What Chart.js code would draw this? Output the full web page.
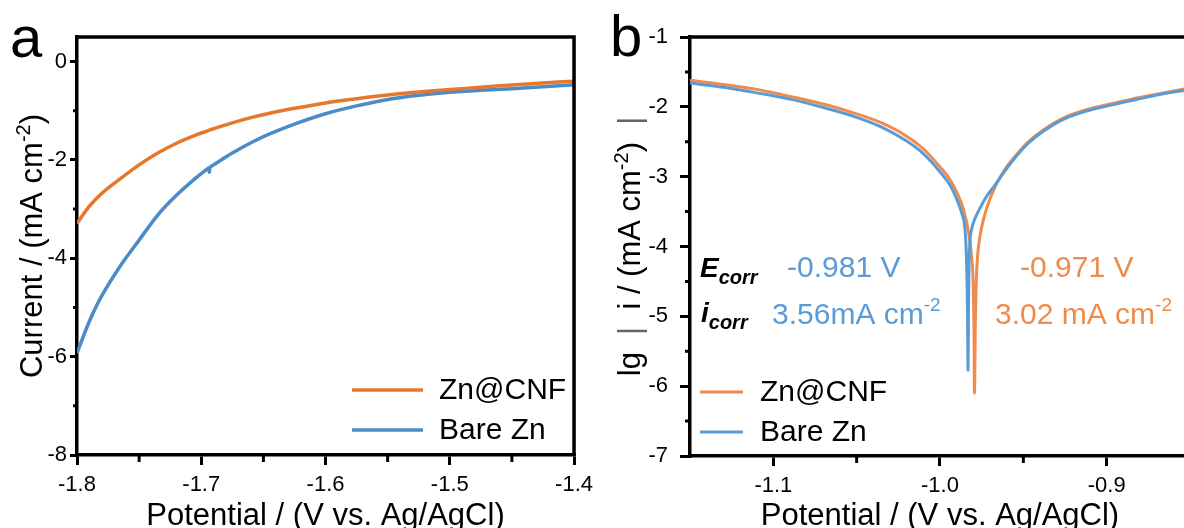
<!DOCTYPE html>
<html>
<head>
<meta charset="utf-8">
<script src="https://cdn.jsdelivr.net/npm/chart.js@4.4.0/dist/chart.umd.min.js"></script>
<style>
html, body { margin: 0; padding: 0; background: #fff; overflow: hidden; }
body { width: 1184px; height: 528px; position: relative; }
.panel { position: absolute; top: 0; width: 600px; height: 528px; }
#wrapA { left: 0; }
#wrapB { left: 600px; }
</style>
</head>
<body>
<div class="panel" id="wrapA"><canvas id="chartA" width="600" height="528"></canvas></div>
<div class="panel" id="wrapB"><canvas id="chartB" width="600" height="528"></canvas></div>
<script>
// ---------- panel a : LSV curves ----------
const potentialA = [-1.8, -1.79, -1.78, -1.765, -1.75, -1.735, -1.72, -1.705, -1.695, -1.694, -1.6935, -1.693,
    -1.69, -1.675, -1.66, -1.645, -1.625, -1.6, -1.575, -1.55, -1.525, -1.5, -1.475, -1.45, -1.425, -1.4];
const cnfCurrentA = [-3.29, -2.94, -2.68, -2.38, -2.10, -1.86, -1.66, -1.50, -1.41, -1.40, -1.395, -1.39,
    -1.365, -1.245, -1.14, -1.05, -0.95, -0.84, -0.755, -0.68, -0.62, -0.57, -0.52, -0.475, -0.435, -0.40];
const bareCurrentA = [-5.93, -5.28, -4.76, -4.15, -3.63, -3.12, -2.72, -2.38, -2.18, -2.165, -2.25, -2.155,
    -2.10, -1.86, -1.65, -1.47, -1.27, -1.06, -0.90, -0.77, -0.685, -0.625, -0.585, -0.55, -0.51, -0.47];
const xTicksA = [-1.8, -1.7, -1.6, -1.5, -1.4];
const xMinorA = [-1.75, -1.65, -1.55, -1.45];
const yTicksA = [-8, -6, -4, -2, 0];
const yMinorA = [-7, -5, -3, -1];

// ---------- panel b : Tafel curves ----------
const cnfPotentialB = [-1.15, -1.13, -1.11, -1.09, -1.07, -1.05, -1.035, -1.02, -1.01, -1.0, -0.994, -0.99,
    -0.986, -0.983, -0.981, -0.98, -0.9796, -0.9793, -0.9788, -0.9783, -0.9775, -0.976, -0.974, -0.971,
    -0.967, -0.962, -0.955, -0.947, -0.938, -0.926, -0.912, -0.9, -0.885, -0.87, -0.85];
const cnfLogB = [-1.62, -1.68, -1.75, -1.85, -1.96, -2.10, -2.23, -2.42, -2.60, -2.86, -3.04, -3.22,
    -3.46, -3.78, -4.15, -4.60, -5.20, -6.10, -5.10, -4.55, -4.15, -3.85, -3.62, -3.38,
    -3.15, -2.93, -2.71, -2.50, -2.33, -2.16, -2.04, -1.97, -1.89, -1.82, -1.73];
const barePotentialB = [-1.15, -1.13, -1.11, -1.09, -1.07, -1.05, -1.035, -1.02, -1.01, -1.0, -0.994, -0.99,
    -0.987, -0.985, -0.9842, -0.9837, -0.9834, -0.9832, -0.9829, -0.9826, -0.9821, -0.981, -0.979, -0.976,
    -0.972, -0.967, -0.962, -0.955, -0.947, -0.938, -0.926, -0.912, -0.9, -0.885, -0.87, -0.85];
const bareLogB = [-1.66, -1.72, -1.80, -1.89, -2.01, -2.15, -2.29, -2.49, -2.67, -2.93, -3.12, -3.32,
    -3.52, -3.75, -4.10, -4.60, -5.20, -5.77, -4.90, -4.30, -3.95, -3.75, -3.60, -3.45,
    -3.28, -3.12, -2.95, -2.73, -2.52, -2.35, -2.18, -2.06, -1.99, -1.91, -1.83, -1.75];
const xTicksB = [-1.1, -1.0, -0.9];
const xMinorB = [-1.05, -0.95, -0.85];
const yTicksB = [-7, -6, -5, -4, -3, -2, -1];
const yMinorB = [-6.5, -5.5, -4.5, -3.5, -2.5, -1.5];

const seriesNames = ['Zn@CNF', 'Bare Zn'];
const ecorrText = ['-0.981 V', '-0.971 V'];
const icorrText = ['3.56mA cm', '3.02 mA cm'];

const FONT = "'Liberation Sans', Arial, sans-serif";
const ORANGE_A = '#E8772E', BLUE_A = '#4A8BC8';
const ORANGE_B = '#EF8B4C', BLUE_B = '#5B9BD5';

function pairs(xs, ys) {
    return xs.map((x, i) => ({ x: x, y: ys[i] }));
}

// draw a run of text pieces (for superscripts / subscripts)
function richWidth(ctx, parts) {
    let w = 0;
    parts.forEach(p => { ctx.font = p.font; w += ctx.measureText(p.text).width; });
    return w;
}
function drawRich(ctx, parts, x, y) {
    let cx = x;
    parts.forEach(p => {
        ctx.font = p.font;
        ctx.fillStyle = p.color || '#000';
        ctx.fillText(p.text, cx, y + (p.dy || 0));
        cx += ctx.measureText(p.text).width;
    });
}

// frame, minor ticks, titles, legend and notes
const decorations = {
    id: 'decorations',
    afterDraw(chart, args, o) {
        const ctx = chart.ctx;
        const { left, right, top, bottom } = chart.chartArea;
        const xs = chart.scales.x, ys = chart.scales.y;
        ctx.save();
        ctx.strokeStyle = '#000';
        ctx.lineWidth = o.frame;
        ctx.beginPath();
        ctx.moveTo(left - o.frame / 2, top);
        ctx.lineTo(right, top);
        ctx.lineTo(right, bottom);
        ctx.stroke();

        ctx.lineWidth = 3;
        ctx.beginPath();
        o.minorX.forEach(v => {
            const px = xs.getPixelForValue(v);
            ctx.moveTo(px, bottom);
            ctx.lineTo(px, bottom + o.minorLenX);
        });
        o.minorY.forEach(v => {
            const py = ys.getPixelForValue(v);
            ctx.moveTo(left, py);
            ctx.lineTo(left - o.minorLenY, py);
        });
        ctx.stroke();

        ctx.textBaseline = 'alphabetic';
        // panel letter
        ctx.font = '58px ' + FONT;
        ctx.fillStyle = '#000';
        ctx.fillText(o.letter, o.letterX, o.letterY);

        // x title
        ctx.font = '31px ' + FONT;
        ctx.textAlign = 'center';
        ctx.fillText('Potential / (V vs. Ag/AgCl)', (left + right) / 2, o.xTitleY);
        ctx.textAlign = 'left';

        // y title (rotated)
        ctx.save();
        ctx.translate(o.yTitleX, (top + bottom) / 2);
        ctx.rotate(-Math.PI / 2);
        const w = richWidth(ctx, o.yTitle);
        drawRich(ctx, o.yTitle, -w / 2, 0);
        ctx.restore();

        // legend
        chart.data.datasets.forEach((ds, i) => {
            const ly = o.legendY[i];
            ctx.strokeStyle = ds.borderColor;
            ctx.lineWidth = ds.borderWidth;
            ctx.beginPath();
            ctx.moveTo(o.legendX, ly);
            ctx.lineTo(o.legendX + o.legendLen, ly);
            ctx.stroke();
            ctx.fillStyle = '#000';
            ctx.font = '30px ' + FONT;
            ctx.textBaseline = 'middle';
            ctx.fillText(ds.label, o.legendX + o.legendLen + o.legendGap, ly + 1);
            ctx.textBaseline = 'alphabetic';
        });

        (o.notes || []).forEach(n => drawRich(ctx, n.parts, n.x, n.y));
        ctx.restore();
    }
};

function axisCommon(ticksArr, fmt, tickLen, pad, size) {
    return {
        type: 'linear',
        afterBuildTicks: s => { s.ticks = ticksArr.map(v => ({ value: v })); },
        ticks: {
            callback: fmt,
            color: '#000',
            padding: pad,
            font: { family: FONT, size: size }
        },
        grid: { drawOnChartArea: false, drawTicks: true, tickLength: tickLen, color: '#000', lineWidth: 3 },
        border: { display: true, color: '#000', width: 3.5 }
    };
}

// ---------- chart a ----------
const xA = axisCommon(xTicksA, v => v.toFixed(1), 10, 7, 22);
xA.min = -1.8; xA.max = -1.4;
xA.afterFit = s => { s.height = 73; };
const yA = axisCommon(yTicksA, v => String(v), 7, 3, 22);
yA.min = -8; yA.max = 0.5;
yA.afterFit = s => { s.width = 77; };

new Chart(document.getElementById('chartA'), {
    type: 'line',
    data: {
        datasets: [
            { label: seriesNames[0], data: pairs(potentialA, cnfCurrentA), borderColor: ORANGE_A, borderWidth: 3.5, order: 0 },
            { label: seriesNames[1], data: pairs(potentialA, bareCurrentA), borderColor: BLUE_A, borderWidth: 3.5, order: 1 }
        ]
    },
    options: {
        responsive: false,
        animation: false,
        layout: { padding: { top: 37, right: 25, left: 0, bottom: 0 } },
        elements: { point: { radius: 0 }, line: { tension: 0.35, fill: false } },
        scales: { x: xA, y: yA },
        plugins: {
            legend: { display: false },
            tooltip: { enabled: false },
            decorations: {
                frame: 3.5, minorX: xMinorA, minorY: yMinorA, minorLenX: 7, minorLenY: 4,
                letter: 'a', letterX: 10, letterY: 57,
                xTitleY: 525, yTitleX: 42,
                yTitle: [
                    { text: 'Current / (mA cm', font: '31px ' + FONT },
                    { text: '-2', font: '20px ' + FONT, dy: -12 },
                    { text: ')', font: '31px ' + FONT }
                ],
                legendX: 352, legendLen: 71, legendGap: 16, legendY: [390, 430]
            }
        }
    },
    plugins: [decorations]
});

// ---------- chart b ----------
const xB = axisCommon(xTicksB, v => v.toFixed(1), 10, 7, 22);
xB.min = -1.15; xB.max = -0.85;
xB.afterFit = s => { s.height = 72; };
const yB = axisCommon(yTicksB, v => String(v), 10, 12, 22);
yB.min = -7; yB.max = -1;
yB.afterFit = s => { s.width = 90; };

const bold = 'italic bold 28px ' + FONT, sub = 'italic bold 20px ' + FONT;
const big = '30px ' + FONT, sup = '19px ' + FONT;
const titleFont = '31px ' + FONT;

new Chart(document.getElementById('chartB'), {
    type: 'line',
    data: {
        datasets: [
            { label: seriesNames[0], data: pairs(cnfPotentialB, cnfLogB), borderColor: ORANGE_B, borderWidth: 3, order: 1 },
            { label: seriesNames[1], data: pairs(barePotentialB, bareLogB), borderColor: BLUE_B, borderWidth: 3, order: 0 }
        ]
    },
    options: {
        responsive: false,
        animation: false,
        layout: { padding: { top: 37, right: 10, left: 0, bottom: 0 } },
        elements: { point: { radius: 0 }, line: { cubicInterpolationMode: 'monotone', fill: false } },
        scales: { x: xB, y: yB },
        plugins: {
            legend: { display: false },
            tooltip: { enabled: false },
            decorations: {
                frame: 3.5, minorX: xMinorB, minorY: yMinorB, minorLenX: 7, minorLenY: 5,
                letter: 'b', letterX: 10, letterY: 56,
                xTitleY: 525, yTitleX: 40,
                yTitle: [
                    { text: 'lg  ', font: titleFont },
                    { text: '|', font: titleFont, color: '#666' },
                    { text: '  i / (mA cm', font: titleFont },
                    { text: '-2', font: '20px ' + FONT, dy: -12 },
                    { text: ')  ', font: titleFont },
                    { text: '|', font: titleFont, color: '#666' }
                ],
                legendX: 100, legendLen: 43, legendGap: 17, legendY: [392, 432],
                notes: [
                    { x: 100, y: 277, parts: [{ text: 'E', font: bold }, { text: 'corr', font: sub, dy: 7 }] },
                    { x: 187, y: 277, parts: [{ text: ecorrText[0], font: big, color: BLUE_B }] },
                    { x: 420, y: 277, parts: [{ text: ecorrText[1], font: big, color: ORANGE_B }] },
                    { x: 101, y: 322, parts: [{ text: 'i', font: bold }, { text: 'corr', font: sub, dy: 7 }] },
                    { x: 172, y: 324, parts: [{ text: icorrText[0], font: big, color: BLUE_B },
                        { text: '-2', font: sup, dy: -13, color: BLUE_B }] },
                    { x: 395, y: 324, parts: [{ text: icorrText[1], font: big, color: ORANGE_B },
                        { text: '-2', font: sup, dy: -13, color: ORANGE_B }] }
                ]
            }
        }
    },
    plugins: [decorations]
});
</script>
</body>
</html>
